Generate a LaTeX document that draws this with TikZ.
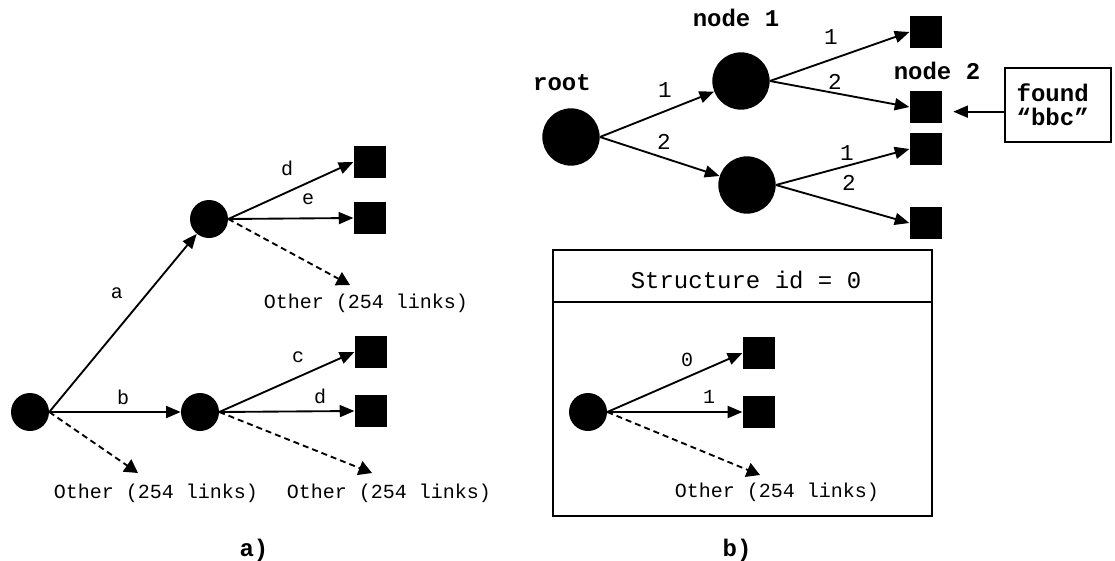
\documentclass[tikz,border=0pt]{standalone}
\usepackage{fontspec}
\setmonofont{Liberation Mono}
\usetikzlibrary{arrows.meta}

\begin{document}
\begin{tikzpicture}[
    x=0.75pt, y=-0.75pt,
    every node/.style={inner sep=0pt, font=\ttfamily\fontsize{15}{18}\selectfont},
    big/.style={font=\ttfamily\bfseries\fontsize{18}{18}\selectfont},
    num/.style={font=\ttfamily\fontsize{17}{18}\selectfont},
    dot/.style={circle, fill=black, minimum size=28.5pt},
    bigdot/.style={circle, fill=black, minimum size=43pt},
    leaf/.style={rectangle, fill=black, minimum size=24.5pt},
    frame/.style={draw, line width=1.3pt},
    link/.style={draw, line width=1.4pt, -{Triangle[length=11pt,width=9pt]}},
    otherlink/.style={link, dash pattern=on 4.5pt off 3pt, -{Triangle[length=10pt,width=11pt]}}
]
    \useasboundingbox (0,0) rectangle (1115,561);
    % a)
    \node[dot] (r) at (30,412) {};
    \node[dot] (u) at (209,219) {};
    \node[dot] (m) at (200,412) {};
    \node[leaf] (ud) at (370,162) {};
    \node[leaf] (ue) at (370,218) {};
    \node[leaf] (mc) at (371,352) {};
    \node[leaf] (md) at (371,411) {};
    \coordinate (uo) at (350,285);
    \coordinate (ro) at (138,473);
    \coordinate (mo) at (372,473);
    \draw[link] (r.east) -- (u);
    \draw[link] (r.east) -- (m);
    \draw[link] (u.east) -- (ud.west);
    \draw[link] (u.east) -- (ue.west);
    \draw[link] (m.east) -- (mc.west);
    \draw[link] (m.east) -- (md.west);
    \draw[otherlink] (u.east) -- (uo);
    \draw[otherlink] (r.east) -- (ro);
    \draw[otherlink] (m.east) -- (mo);
    \node (la) at (117,293) {a};
    \node (lb) at (123,397) {b};
    \node (ld) at (287,168) {d};
    \node (le) at (308,199) {e};
    \node (lc) at (298,357) {c};
    \node (lmd) at (320,396) {d};
    \node (uot) at (366,303) {Other (254 links)};
    \node (rot) at (156,493) {Other (254 links)};
    \node (mot) at (389,493) {Other (254 links)};
    \node[big] (capa) at (254,550) {a)};
    % b)
    \node[bigdot] (root) at (571,137) {};
    \node[bigdot] (n1) at (741,81) {};
    \node[bigdot] (n3) at (747,185) {};
    \node[leaf] (s1) at (926,32) {};
    \node[leaf] (s2) at (926,107) {};
    \node[leaf] (s3) at (926,149) {};
    \node[leaf] (s4) at (926,223) {};
    \draw[link] (root.east) -- (n1);
    \draw[link] (root.east) -- (n3);
    \draw[link] (n1.east) -- (s1.west);
    \draw[link] (n1.east) -- (s2.west);
    \draw[link] (n3.east) -- (s3.west);
    \draw[link] (n3.east) -- (s4.west);
    \node[big] (troot) at (562,83) {root};
    \node[big] (tn1) at (736,18) {node 1};
    \node[big] (tn2) at (937,71) {node 2};
    \node[num] (l1) at (665,90) {1};
    \node[num] (l2) at (664,142) {2};
    \node[num] (l11) at (831,37) {1};
    \node[num] (l12) at (835,82) {2};
    \node[num] (l31) at (847,153) {1};
    \node[num] (l32) at (849,183) {2};
    \node[frame, big, align=left, text width=62pt, inner xsep=9pt, minimum height=55.5pt] (found) at (1058,105) {found\\“bbc”};
    \draw[link] ([yshift=-5pt]found.west) -- ([yshift=-5pt]found.west -| s2.east) [shorten >=8pt];
    \node[frame, minimum width=284pt, minimum height=199.5pt] (sbox) at (742.5,383) {};
    \draw[frame] (sbox.north west) ++(0,53) coordinate (hl) -- (hl -| sbox.east);
    \node[font=\ttfamily\fontsize{18}{18}\selectfont] (sid) at (746,280) {Structure id = 0};
    \node[dot] (c) at (588,412) {};
    \node[leaf] (c0) at (759,353) {};
    \node[leaf] (c1) at (759,412) {};
    \coordinate (co) at (760,475);
    \draw[link] (c.east) -- (c0.west);
    \draw[link] (c.east) -- (c1.west);
    \draw[otherlink] (c.east) -- (co);
    \node (l0) at (687,360) {0};
    \node (lc1) at (709,397) {1};
    \node (cot) at (777,492) {Other (254 links)};
    \node[big] (capb) at (737,550) {b)};
\end{tikzpicture}
\end{document}
